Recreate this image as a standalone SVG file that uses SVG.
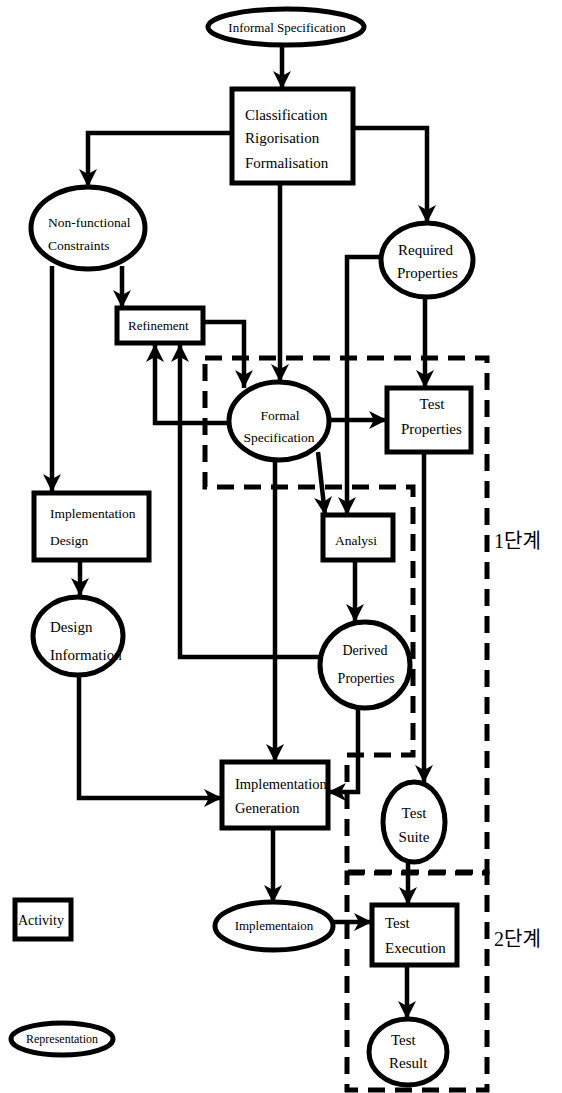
<svg xmlns="http://www.w3.org/2000/svg" width="562" height="1093" viewBox="0 0 562 1093">
<style>
.box{fill:#fff;stroke:#000;stroke-width:5}
.edge{fill:none;stroke:#000;stroke-width:4.5;marker-end:url(#arr)}
.region{fill:none;stroke:#000;stroke-width:5;stroke-dasharray:17 10}
.t{font-family:"Liberation Serif",serif;fill:#000}
.k{font-family:"Liberation Serif","Noto Sans CJK KR",serif;fill:#000;font-size:20px}
</style>
<defs>
<marker id="arr" markerUnits="userSpaceOnUse" markerWidth="18" markerHeight="18" refX="18" refY="9" orient="auto" viewBox="0 0 18 18">
<path d="M0,0 L18,9 L0,18 L5,9 z" fill="#000"/>
</marker>
</defs>
<rect width="562" height="1093" fill="#fff"/>
<g id="regions">
<path class="region" d="M205,358 L487,358 L487,872 L347,872 L347,755 L413,755 L413,487 L205,487 Z"/>
<rect class="region" x="347" y="873" width="140" height="217"/>
<text class="k" x="494" y="548">1단계</text>
<text class="k" x="494" y="946">2단계</text>
</g>
<g id="connectors">
<path class="edge" d="M282,45 L282,89"/>
<path class="edge" d="M232,133 L88,133 L88,187"/>
<path class="edge" d="M353,128 L427,128 L427,223"/>
<path class="edge" d="M280,183 L280,382"/>
<path class="edge" d="M52,266 L52,492"/>
<path class="edge" d="M122,266 L122,308"/>
<path class="edge" d="M203,322 L244,322 L244,388"/>
<path class="edge" d="M229,423 L155,423 L155,344"/>
<path class="edge" d="M320,657 L180,657 L180,344"/>
<path class="edge" d="M330,420 L387,420"/>
<path class="edge" d="M380,257 L347,257 L347,515"/>
<path class="edge" d="M425,297 L425,388"/>
<path class="edge" d="M318,452 L325,515"/>
<path class="edge" d="M275,460 L275,762"/>
<path class="edge" d="M424,452 L424,783"/>
<path class="edge" d="M355,560 L355,622"/>
<path class="edge" d="M358,707 L358,792 L328,792"/>
<path class="edge" d="M80,560 L80,596"/>
<path class="edge" d="M79,673 L79,798 L222,798"/>
<path class="edge" d="M273,828 L273,903"/>
<path class="edge" d="M333,922 L372,922"/>
<path class="edge" d="M408,862 L408,905"/>
<path class="edge" d="M407,965 L407,1019"/>
</g>
<g id="informal-spec">
<ellipse class="box" cx="286" cy="27" rx="78" ry="18"/>
<text class="t" x="287" y="32" font-size="13" text-anchor="middle">Informal Specification</text>
</g>
<g id="classification">
<rect class="box" x="232" y="89" width="121" height="94"/>
<text class="t" x="245" y="120" font-size="15">Classification</text>
<text class="t" x="245" y="143" font-size="15">Rigorisation</text>
<text class="t" x="245" y="168" font-size="15">Formalisation</text>
</g>
<g id="non-functional">
<ellipse class="box" cx="88" cy="228" rx="57" ry="41"/>
<text class="t" x="48" y="227" font-size="13.5">Non-functional</text>
<text class="t" x="48" y="250" font-size="13.5">Constraints</text>
</g>
<g id="required-properties">
<ellipse class="box" cx="427" cy="260" rx="46" ry="37"/>
<text class="t" x="398" y="255" font-size="15">Required</text>
<text class="t" x="397" y="278" font-size="15">Properties</text>
</g>
<g id="refinement">
<rect class="box" x="117" y="308" width="86" height="35"/>
<text class="t" x="128" y="330" font-size="13">Refinement</text>
</g>
<g id="formal-spec">
<ellipse class="box" cx="279" cy="421" rx="50" ry="39"/>
<text class="t" x="280" y="420" font-size="13.5" text-anchor="middle">Formal</text>
<text class="t" x="279" y="442" font-size="13.5" text-anchor="middle">Specification</text>
</g>
<g id="test-properties">
<rect class="box" x="387" y="388" width="84" height="64"/>
<text class="t" x="432" y="409" font-size="15" text-anchor="middle">Test</text>
<text class="t" x="401" y="434" font-size="15">Properties</text>
</g>
<g id="implementation-design">
<rect class="box" x="34" y="493" width="115" height="67"/>
<text class="t" x="50" y="518" font-size="13.5">Implementation</text>
<text class="t" x="50" y="545" font-size="13.5">Design</text>
</g>
<g id="analysis">
<rect class="box" x="323" y="515" width="70" height="45"/>
<text class="t" x="356" y="545" font-size="13.5" text-anchor="middle">Analysi</text>
</g>
<g id="design-information">
<ellipse class="box" cx="78" cy="636" rx="45" ry="39"/>
<text class="t" x="50" y="632" font-size="15">Design</text>
<text class="t" x="50" y="660" font-size="15">Information</text>
</g>
<g id="derived-properties">
<ellipse class="box" cx="365" cy="665" rx="45" ry="43"/>
<text class="t" x="365" y="655" font-size="14" text-anchor="middle">Derived</text>
<text class="t" x="366" y="683" font-size="14" text-anchor="middle">Properties</text>
</g>
<g id="implementation-generation">
<rect class="box" x="222" y="762" width="106" height="66"/>
<text class="t" x="235" y="789" font-size="14.5">Implementation</text>
<text class="t" x="235" y="813" font-size="14.5">Generation</text>
</g>
<g id="test-suite">
<ellipse class="box" cx="414" cy="822" rx="31" ry="40"/>
<text class="t" x="414" y="818" font-size="15" text-anchor="middle">Test</text>
<text class="t" x="414" y="842" font-size="15" text-anchor="middle">Suite</text>
</g>
<g id="implementation">
<ellipse class="box" cx="274" cy="926" rx="59" ry="24"/>
<text class="t" x="274" y="930" font-size="13" text-anchor="middle">Implementaion</text>
</g>
<g id="test-execution">
<rect class="box" x="372" y="905" width="85" height="60"/>
<text class="t" x="385" y="928" font-size="15">Test</text>
<text class="t" x="385" y="953" font-size="15">Execution</text>
</g>
<g id="test-result">
<ellipse class="box" cx="408" cy="1052" rx="39" ry="33"/>
<text class="t" x="391" y="1045" font-size="15">Test</text>
<text class="t" x="389" y="1068" font-size="15">Result</text>
</g>
<g id="legend-activity">
<rect class="box" x="15" y="900" width="56" height="39"/>
<text class="t" x="18" y="925" font-size="14">Activity</text>
</g>
<g id="legend-representation">
<ellipse class="box" cx="62" cy="1039" rx="51" ry="16"/>
<text class="t" x="62" y="1043" font-size="12" text-anchor="middle">Representation</text>
</g>
</svg>
